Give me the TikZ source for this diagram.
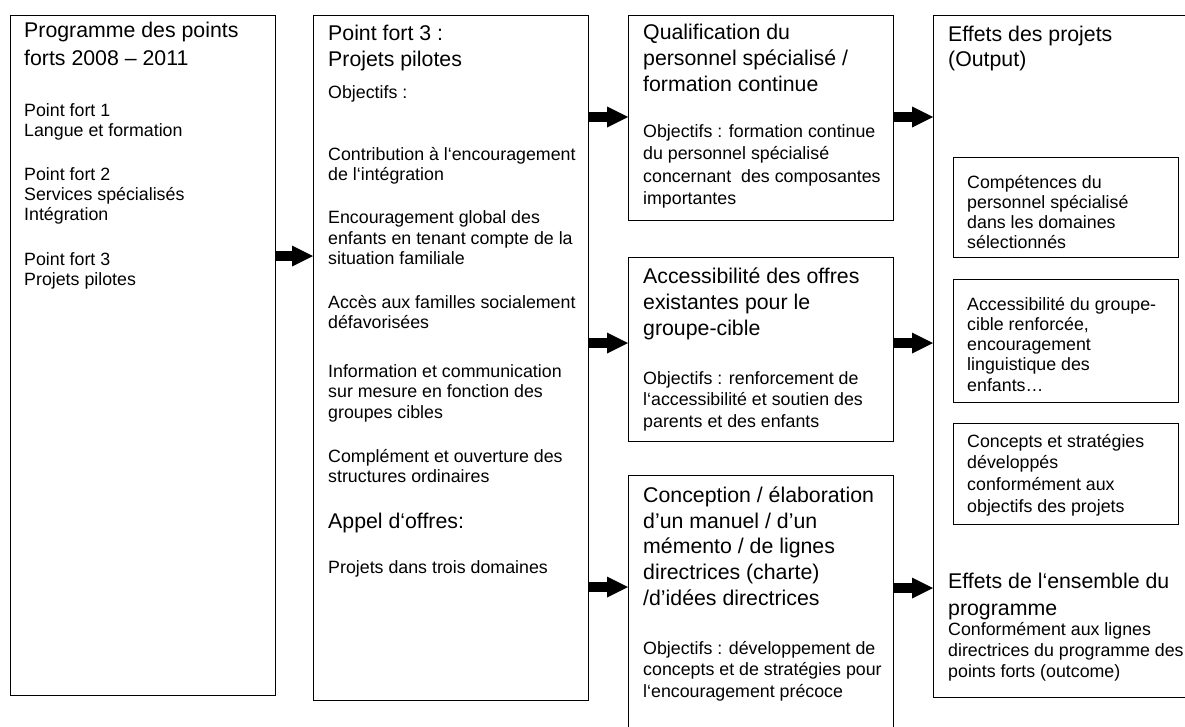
\documentclass[tikz,border=0pt]{standalone}
\usepackage{fontspec}
\setmainfont{Liberation Sans}
\usetikzlibrary{arrows.meta}
\newcommand\firstl{\rule{0pt}{20pt}}
\tikzset{
  box/.style={draw, line width=1.2pt, inner sep=0pt, anchor=north west},
  txt/.style={anchor=north west, inner sep=0pt, align=left, font=\fontsize{17.8}{21}\selectfont},
  big/.style={anchor=north west, inner sep=0pt, align=left, font=\fontsize{21.3}{26.5}\selectfont},
  conn/.style={line width=9.5pt, -{Triangle[length=21pt,width=21pt,line width=0pt]}}
}
\begin{document}
\begin{tikzpicture}[x=1pt,y=-1pt]
\useasboundingbox (0,0) rectangle (1185,726);
\clip (0,0) rectangle (1185,726);
% boxes
\node[box, minimum width=265pt, minimum height=680pt] (b1) at (10,15) {};
\node[box, minimum width=275pt, minimum height=685pt] (b2) at (313,15) {};
\node[box, minimum width=265pt, minimum height=205pt] (b3a) at (628,15) {};
\node[box, minimum width=265pt, minimum height=184pt] (b3b) at (628,257) {};
\node[box, minimum width=265pt, minimum height=280pt] (b3c) at (628,475) {};
\node[box, minimum width=290pt, minimum height=682pt] (b4) at (933,15) {};
\node[box, minimum width=225pt, minimum height=100pt] (i1) at (953,157) {};
\node[box, minimum width=225pt, minimum height=123pt] (i2) at (953,279) {};
\node[box, minimum width=225pt, minimum height=101pt] (i3) at (953,423) {};
% box 1 texts
\node[big, font=\fontsize{21.3}{27.3}\selectfont] (t1a) at (24,17.5) {\firstl Programme des points\\forts 2008 – 2011};
\node[txt, font=\fontsize{17.8}{20}\selectfont] (t1b) at (24,96) {\firstl Point fort 1\\Langue et formation};
\node[txt, font=\fontsize{17.8}{20}\selectfont] (t1c) at (24,160) {\firstl Point fort 2\\Services spécialisés\\Intégration};
\node[txt, font=\fontsize{17.8}{20}\selectfont] (t1d) at (24,245) {\firstl Point fort 3\\Projets pilotes};
% box 2 texts
\node[big] (t2a) at (328,20) {\firstl Point fort 3 :\\Projets pilotes};
\node[txt] (t2b) at (328,78) {\firstl Objectifs :};
\node[txt, font=\fontsize{17.8}{20.5}\selectfont] (t2c) at (328,140) {\firstl Contribution à l‘encouragement\\de l‘intégration};
\node[txt, font=\fontsize{17.8}{20.8}\selectfont] (t2d) at (328,203) {\firstl Encouragement global des\\enfants en tenant compte de la\\situation familiale};
\node[txt, font=\fontsize{17.8}{20.5}\selectfont] (t2e) at (328,288) {\firstl Accès aux familles socialement\\défavorisées};
\node[txt, font=\fontsize{17.8}{20.5}\selectfont] (t2f) at (328,357) {\firstl Information et communication\\sur mesure en fonction des\\groupes cibles};
\node[txt, font=\fontsize{17.8}{20.5}\selectfont] (t2g) at (328,442) {\firstl Complément et ouverture des\\structures ordinaires};
\node[big] (t2h) at (328,508) {\firstl Appel d‘offres:};
\node[txt] (t2i) at (328,553) {\firstl Projets dans trois domaines};
% box 3a
\node[big, font=\fontsize{21.3}{26}\selectfont] (t3a) at (643,19) {\firstl Qualification du\\personnel spécialisé /\\formation continue};
\node[txt, font=\fontsize{17.8}{22.5}\selectfont] (t3b) at (643,117) {\firstl Objectifs : formation continue\\du personnel spécialisé\\concernant~ des composantes\\importantes};
% box 3b
\node[big, font=\fontsize{21.3}{26}\selectfont] (t3c) at (643,263) {\firstl Accessibilité des offres\\existantes pour le\\groupe-cible};
\node[txt, font=\fontsize{17.8}{21.5}\selectfont] (t3d) at (643,364) {\firstl Objectifs : renforcement de\\l‘accessibilité et soutien des\\parents et des enfants};
% box 3c
\node[big, font=\fontsize{21.3}{25.8}\selectfont] (t3e) at (643,482) {\firstl Conception / élaboration\\d’un manuel / d’un\\mémento / de lignes\\directrices (charte)\\/d’idées directrices};
\node[txt, font=\fontsize{17.8}{21.5}\selectfont] (t3f) at (643,634) {\firstl Objectifs : développement de\\concepts et de stratégies pour\\l‘encouragement précoce};
% box 4
\node[big, font=\fontsize{21.3}{25.5}\selectfont] (t4a) at (948,21) {\firstl Effets des projets\\(Output)};
\node[txt, font=\fontsize{17.8}{20}\selectfont] (t4b) at (967,168) {\firstl Compétences du\\personnel spécialisé\\dans les domaines\\sélectionnés};
\node[txt, font=\fontsize{17.8}{20.2}\selectfont] (t4c) at (967,290) {\firstl Accessibilité du groupe-\\cible renforcée,\\encouragement\\linguistique des\\enfants…};
\node[txt, font=\fontsize{17.8}{21.7}\selectfont] (t4d) at (967,427) {\firstl Concepts et stratégies\\développés\\conformément aux\\objectifs des projets};
\node[big, font=\fontsize{21.3}{27}\selectfont] (t4e) at (948,568) {\firstl Effets de l‘ensemble du\\programme};
\node[txt, font=\fontsize{17.8}{21}\selectfont] (t4f) at (948,615) {\firstl Conformément aux lignes\\directrices du programme des\\points forts (outcome)};
% connectors
\draw[conn] (b1.east |- 0,256) -- (b2.west |- 0,256);
\draw[conn] (b2.east |- 0,117) -- (b3a.west |- 0,117);
\draw[conn] (b2.east |- 0,343) -- (b3b.west |- 0,343);
\draw[conn] (b2.east |- 0,587) -- (b3c.west |- 0,587);
\draw[conn] (b3a.east |- 0,117) -- (b4.west |- 0,117);
\draw[conn] (b3b.east |- 0,343) -- (b4.west |- 0,343);
\draw[conn] (b3c.east |- 0,588) -- (b4.west |- 0,588);
\end{tikzpicture}
\end{document}
